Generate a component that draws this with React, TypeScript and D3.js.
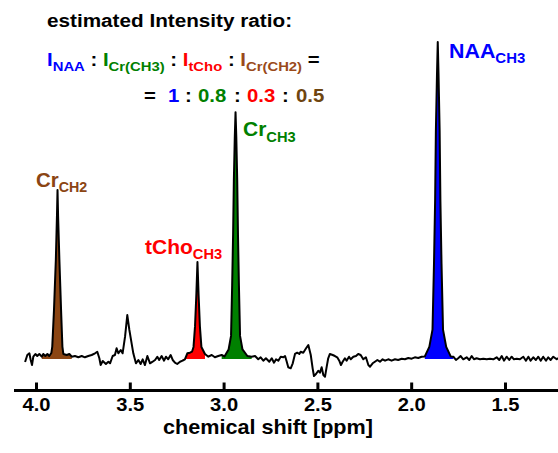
import React from "react";
import * as d3 from "d3";

// spectrum (ppm, arbitrary intensity; NAA peak = 100)
const spectrumPpm = [
  4.061, 4.049, 4.038, 4.031, 4.024, 4.017, 4.006, 3.996, 3.985, 3.972, 3.964, 3.953, 3.942, 3.932, 3.921,
  3.916, 3.907, 3.897, 3.891, 3.888, 3.885, 3.878, 3.869, 3.862, 3.857, 3.839, 3.825, 3.812, 3.795, 3.777,
  3.759, 3.742, 3.724, 3.706, 3.688, 3.676, 3.665, 3.658, 3.647, 3.63, 3.617, 3.608, 3.594, 3.582, 3.573,
  3.564, 3.551, 3.541, 3.528, 3.516, 3.505, 3.493, 3.484, 3.47, 3.457, 3.445, 3.434, 3.422, 3.409, 3.395,
  3.381, 3.368, 3.356, 3.346, 3.333, 3.32, 3.31, 3.298, 3.285, 3.274, 3.262, 3.25, 3.235, 3.221, 3.209,
  3.196, 3.182, 3.171, 3.163, 3.155, 3.148, 3.142, 3.136, 3.129, 3.121, 3.102, 3.084, 3.066, 3.049, 3.031,
  3.013, 2.998, 2.976, 2.963, 2.957, 2.952, 2.948, 2.943, 2.939, 2.935, 2.93, 2.926, 2.921, 2.915, 2.902,
  2.876, 2.853, 2.835, 2.818, 2.805, 2.791, 2.777, 2.759, 2.746, 2.734, 2.723, 2.711, 2.698, 2.684, 2.675,
  2.666, 2.658, 2.645, 2.634, 2.622, 2.61, 2.599, 2.592, 2.578, 2.563, 2.551, 2.538, 2.528, 2.521, 2.51,
  2.498, 2.489, 2.48, 2.471, 2.462, 2.453, 2.445, 2.436, 2.421, 2.409, 2.397, 2.386, 2.377, 2.368, 2.356,
  2.347, 2.334, 2.325, 2.311, 2.297, 2.285, 2.272, 2.258, 2.244, 2.231, 2.222, 2.208, 2.196, 2.183, 2.169,
  2.155, 2.142, 2.125, 2.107, 2.089, 2.072, 2.053, 2.036, 2.018, 2.0, 1.983, 1.965, 1.947, 1.93, 1.906,
  1.889, 1.881, 1.875, 1.871, 1.865, 1.861, 1.857, 1.851, 1.847, 1.841, 1.833, 1.816, 1.792, 1.778, 1.764,
  1.752, 1.739, 1.725, 1.707, 1.693, 1.68, 1.668, 1.654, 1.636, 1.618, 1.6, 1.583, 1.565, 1.547, 1.533,
  1.52, 1.508, 1.494, 1.48, 1.467, 1.455, 1.44, 1.423, 1.405, 1.391, 1.378, 1.366, 1.352, 1.338, 1.325,
  1.312, 1.299, 1.284, 1.272, 1.259, 1.245, 1.227, 1.22,
];
const spectrumIntensity = [
  -1.27, 0.95, 1.49, -0.63, -2.22, 0.41, 1.27, 0.63, 1.27, 0.41, 1.27, 0.63, 1.27, 0.63, 1.58,
  3.6, 15, 31, 45, 53.2, 45, 31, 15, 3.6, 1.27, 0.95, 1.27, 0.41, 0.63, 0.22,
  0.63, 0.22, 0.63, 0.95, 1.49, 1.99, -0.09, -2.22, -0.95, -1.9, -1.17, -1.68, 0.63, 0.95, 3.07,
  1.49, 2.53, 1.49, 6.74, 13.6, 8.86, 4.65, 1.49, -1.68, -0.63, -1.9, -0.41, -2.22, 0.63, -1.68,
  -1.17, -0.63, 0.41, -0.63, 0.63, -0.85, 0.41, -0.41, 0.95, -0.63, -1.49, -1.9, -1.17, -0.85, -0.41,
  1.49, 1.68, 1.99, 3.5, 10, 20, 30.4, 20, 10, 3.5, 1.27, 0.41, 0.95, 0.22, 0.63,
  0.95, 0.5, 2.7, 7, 23, 39, 56, 70, 77.8, 70, 56, 39, 23, 7, 2.7,
  0.63, 0.41, 0.63, -0.41, 0.22, -0.85, -0.09, -1.17, -0.09, -1.49, -0.41, -0.85, 0.41, 0.22, 0.63,
  -1.17, -2.94, -3.26, -1.68, 1.27, 1.68, 1.27, 1.99, 1.68, 3.07, 4.11, 0.95, -3.26, -5.7, -5.06,
  -4.02, -4.65, -2.94, -5.38, -5.92, -2.75, -0.09, 1.27, 0.95, 0.63, 0.22, -0.85, -2.22, -1.17, -0.09,
  -0.85, 0.41, -0.41, 0.41, 0.63, 1.27, 0.95, -0.41, 0.22, -2.22, -2.75, -1.68, -1.17, -0.63, -1.17,
  -0.41, -0.85, -0.41, -0.85, -0.41, -0.63, -0.22, -0.41, 0, -0.22, 0.22, 0, 0.41, 0.5, 3.5,
  9, 30, 50, 72, 90, 100, 90, 72, 50, 30, 9, 3.5, 0.5, 0.41, -0.63,
  -0.09, 0.63, -0.41, 0.22, -0.63, 0.63, -0.41, -0.09, -0.41, -0.22, -0.41, -0.22, -0.41, 0.22, -0.63,
  0.63, -0.85, 0.41, -0.63, 0.41, -0.41, -0.22, -0.41, 0.41, -0.85, 0.41, -0.85, 0.22, -0.63, 0.41,
  -0.85, 0.41, -0.85, 0.22, -0.63, 0.41, -0.41, 0,
];

// filled peaks and their ppm ranges
const peakNames = ["CrCH2", "tCho", "CrCH3", "NAA"];
const fillHigh = [3.972, 3.221, 3.013, 1.93];
const fillLow = [3.812, 3.102, 2.853, 1.778];

const tickValues = [4.0, 3.5, 3.0, 2.5, 2.0, 1.5];
const tickLabels = ["4.0", "3.5", "3.0", "2.5", "2.0", "1.5"];

const ratioValues = ["1", "0.8", "0.3", "0.5"];

const colors: Record<string, string> = {
  NAA: "#0000ff",
  CrCH3: "#008000",
  tCho: "#ff0000",
  CrCH2: "#8b4513",
};

const FONT = "'Liberation Sans', Arial, Helvetica, sans-serif";

function T({ x, y, sx = 1, size, fill = "#000", anchor = "start", children }: any) {
  return (
    <text
      transform={`translate(${x},${y}) scale(${sx},1)`}
      fontFamily={FONT}
      fontWeight="bold"
      fontSize={size}
      fill={fill}
      textAnchor={anchor}
    >
      {children}
    </text>
  );
}

export default function App() {
  const width = 558;
  const height = 453;

  const x = d3.scaleLinear().domain([4.12, 1.22]).range([14, 558]);
  const y = d3.scaleLinear().domain([0, 100]).range([358, 42]);

  const points: [number, number][] = spectrumPpm.map((p, i) => [p, spectrumIntensity[i]]);

  const line = d3
    .line<[number, number]>()
    .x((d) => x(d[0]))
    .y((d) => y(d[1]));

  const area = d3
    .area<[number, number]>()
    .x((d) => x(d[0]))
    .y0(y(-0.3))
    .y1((d) => y(d[1]));

  const axisY = 390.5;

  return (
    <svg
      width={width}
      height={height}
      style={{ position: "absolute", left: 0, top: 0, background: "#fff" }}
    >
      {/* peak fills */}
      {peakNames.map((name, i) => (
        <path
          key={name}
          d={area(points.filter((d) => d[0] <= fillHigh[i] && d[0] >= fillLow[i])) || ""}
          fill={colors[name]}
        />
      ))}

      {/* spectrum */}
      <path d={line(points) || ""} fill="none" stroke="#000" strokeWidth={2} strokeLinejoin="round" />

      {/* x axis */}
      <line x1={x.range()[0]} x2={x.range()[1]} y1={axisY} y2={axisY} stroke="#000" strokeWidth={3} />
      {tickValues.map((t, i) => (
        <g key={t}>
          <line x1={x(t)} x2={x(t)} y1={axisY} y2={axisY - 8} stroke="#000" strokeWidth={3} />
          <T x={x(t)} y={411} sx={1.12} size={18} anchor="middle">
            {tickLabels[i]}
          </T>
        </g>
      ))}
      <T x={268} y={434} sx={1.08} size={20} anchor="middle">
        chemical shift [ppm]
      </T>

      {/* peak labels */}
      <T x={36} y={187} sx={1.02} size={20} fill={colors.CrCH2}>
        Cr<tspan fontSize={14} dy={5}>CH2</tspan>
      </T>
      <T x={145} y={254} sx={1.05} size={20} fill={colors.tCho}>
        tCho<tspan fontSize={14} dy={5}>CH3</tspan>
      </T>
      <T x={243} y={136} sx={1.05} size={20} fill={colors.CrCH3}>
        Cr<tspan fontSize={14} dy={6}>CH3</tspan>
      </T>
      <T x={449} y={58} sx={1.07} size={20} fill={colors.NAA}>
        NAA<tspan fontSize={14} dy={5}>CH3</tspan>
      </T>

      {/* ratio text */}
      <T x={47} y={27} sx={1.12} size={18.5}>
        estimated Intensity ratio:
      </T>
      <T x={47} y={66} sx={1.1} size={18.5}>
        <tspan fill={colors.NAA}>I</tspan>
        <tspan fill={colors.NAA} fontSize={13.5} dy={5}>NAA</tspan>
        <tspan dy={-5}> : </tspan>
        <tspan fill={colors.CrCH3}>I</tspan>
        <tspan fill={colors.CrCH3} fontSize={13.5} dy={5}>Cr(CH3)</tspan>
        <tspan dy={-5}> : </tspan>
        <tspan fill={colors.tCho}>I</tspan>
        <tspan fill={colors.tCho} fontSize={13.5} dy={5}>tCho</tspan>
        <tspan dy={-5}> : </tspan>
        <tspan fill="#9a4a1a">I</tspan>
        <tspan fill="#9a4a1a" fontSize={13.5} dy={5}>Cr(CH2)</tspan>
        <tspan dy={-5}> =</tspan>
      </T>
      <T x={144} y={102} sx={1.1} size={18.5}>=</T>
      <T x={168} y={102} sx={1.1} size={18.5} fill={colors.NAA}>{ratioValues[0]}</T>
      <T x={185} y={102} sx={1.1} size={18.5}>:</T>
      <T x={198} y={102} sx={1.1} size={18.5} fill={colors.CrCH3}>{ratioValues[1]}</T>
      <T x={234} y={102} sx={1.1} size={18.5}>:</T>
      <T x={247} y={102} sx={1.1} size={18.5} fill={colors.tCho}>{ratioValues[2]}</T>
      <T x={282} y={102} sx={1.1} size={18.5}>:</T>
      <T x={296} y={102} sx={1.1} size={18.5} fill="#6e4510">{ratioValues[3]}</T>
    </svg>
  );
}
